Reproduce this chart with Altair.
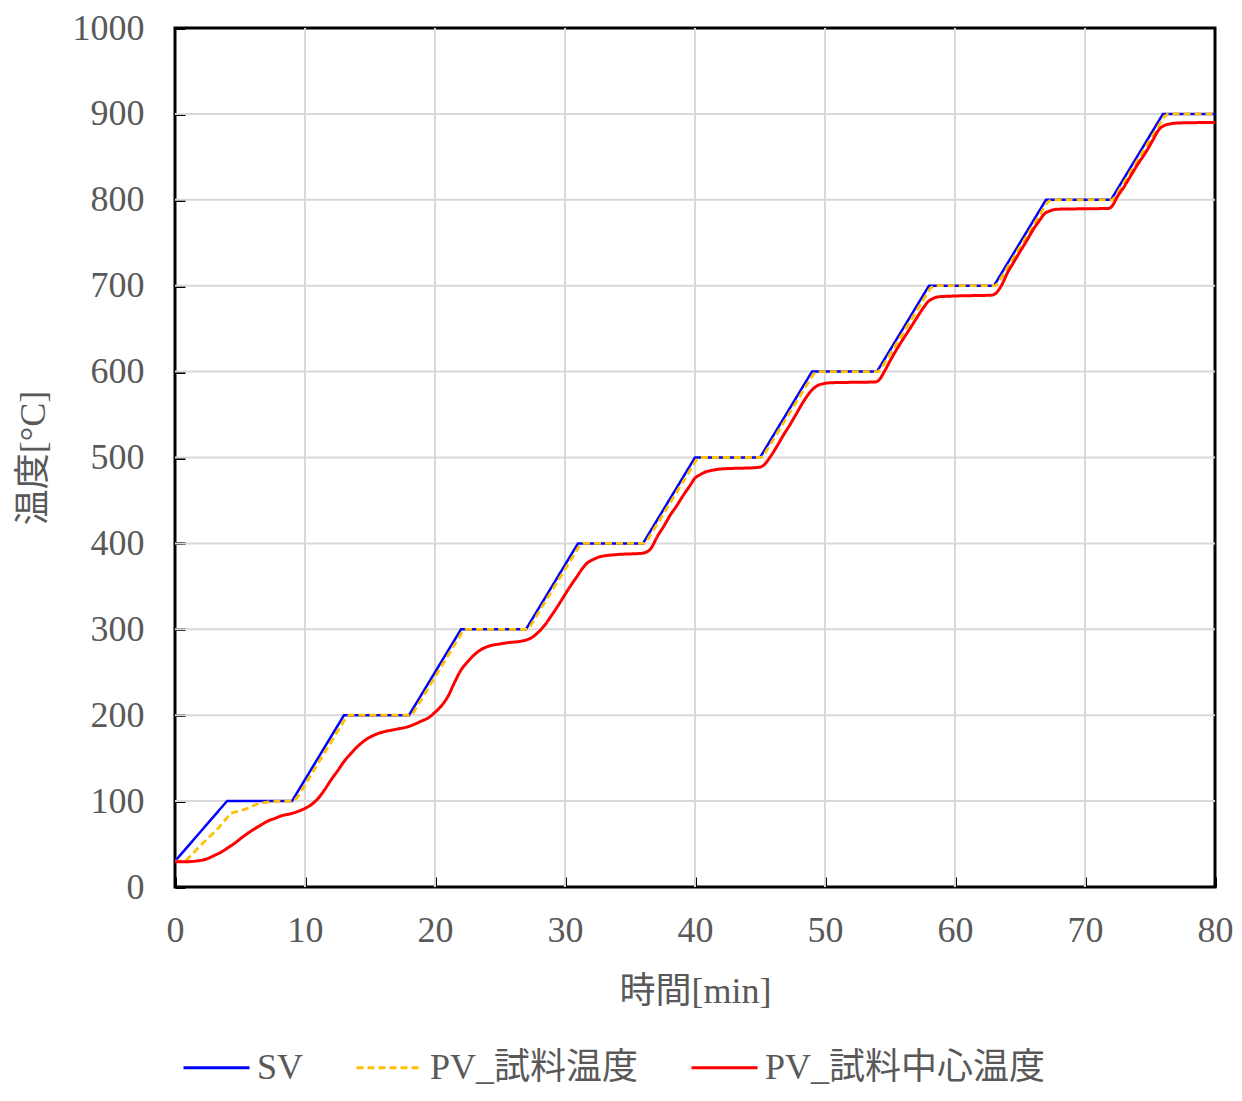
import altair as alt
import pandas as pd

SERIES = ["SV", "PV_試料温度", "PV_試料中心温度"]
COLORS = ["#0000FF", "#FFC000", "#FF0000"]
DASHES = [[1, 0], [7, 4], [1, 0]]

# SV (set value)
SV_T = [0, 4, 9, 13, 18, 22, 27, 31, 36, 40, 45, 49, 54, 58, 63, 67, 72, 76, 80]
SV_V = [30, 100, 100, 200, 200, 300, 300, 400, 400, 500, 500, 600, 600, 700, 700, 800, 800, 900, 900]

# PV sample temperature
PV_T = [0, 0.8, 2.0, 3.3, 4.3, 5.3, 6.4, 7.2, 8, 9.1, 9.4, 13.1, 13.4, 18.1, 18.3, 22.1, 22.4,
        27.1, 27.3, 31.1, 31.4, 36.1, 36.3, 40.1, 40.4, 45.1, 45.3, 49.1, 49.4, 54.1, 54.3,
        58.1, 58.4, 63.1, 63.3, 67.1, 67.4, 72.1, 72.3, 76.1, 76.4, 80]
PV_V = [30, 30, 49, 68, 86, 90, 97, 99, 100, 100, 104, 196, 200, 200, 202, 297, 300,
        300, 303, 397, 400, 400, 403, 497, 500, 500, 503, 597, 600, 600, 603,
        697, 700, 700, 703, 797, 800, 800, 803, 897, 900, 900]

# PV sample centre temperature
CORE_T = [0, 1, 1.5, 2, 2.5, 3, 3.6, 4.1, 4.6, 5.1, 5.6, 6.1, 6.6, 7.1, 7.7, 8.2, 8.7, 9.4,
          10, 10.5, 11, 11.5, 12, 12.5, 13, 13.5, 14, 14.5, 15, 15.5, 16, 17, 18, 18.5, 19,
          19.5, 19.9, 20.5, 21, 21.5, 22, 22.5, 23, 23.5, 24, 25, 25.6, 26.8, 27.2, 27.6,
          28.1, 28.5, 28.9, 29.4, 29.9, 30.4, 30.9, 31.3, 31.7, 32.2, 32.7, 34, 35.9, 36.1,
          36.6, 37.1, 37.6, 38.1, 38.6, 39.1, 39.6, 40, 40.4, 40.7, 41.3, 41.9, 44.9, 45.2,
          45.8, 46.3, 46.8, 47.3, 47.8, 48.3, 48.9, 49.4, 49.9, 50.4, 53.9, 54.2, 54.6, 55.1,
          55.6, 56.1, 56.7, 57.2, 57.6, 57.9, 58.3, 58.7, 60, 62.8, 63.2, 63.6, 64.0, 64.5,
          65, 65.5, 66, 66.5, 66.9, 67.3, 67.8, 71.8, 72.1, 72.5, 73.0, 73.4, 74, 74.7, 75.2,
          75.7, 76.1, 76.6, 77.3, 80]
CORE_V = [29.5, 29.5, 30, 31, 33, 36.5, 41, 46, 51, 57, 62.5, 67.5, 72, 76.5, 80, 83, 84.6, 87.7,
          91.5, 96, 103, 113, 124.6, 135, 146, 155, 163, 169.5, 174.5, 178, 180.5, 183.6, 187, 190, 193.5,
          197, 202, 211, 222, 238, 252.6, 262, 270, 276, 279.7, 283, 284.4, 286.7, 288.5, 292,
          299, 306, 314.7, 326, 338, 350, 361, 370, 377, 381.5, 384.5, 387, 388.5, 389,
          394, 408, 420, 433, 444, 456, 467, 476, 480, 482.5, 485, 486.5, 488.5, 490,
          501, 513, 526, 538, 551, 564, 577, 583.6, 586, 587, 588, 591, 601, 615,
          628, 640, 654, 666, 675, 681, 685, 687, 688, 689, 692, 701, 714, 727,
          739.6, 752, 765, 776, 784, 787, 789, 790, 793, 804, 815, 825, 840, 856, 869,
          882, 886.5, 888.5, 889.5, 890]

X_TICKS = [0, 10, 20, 30, 40, 50, 60, 70, 80]
Y_TICKS = [0, 100, 200, 300, 400, 500, 600, 700, 800, 900, 1000]
GRID_X = [10, 20, 30, 40, 50, 60, 70]
GRID_Y = [100, 200, 300, 400, 500, 600, 700, 800, 900]

FONT = "Liberation Serif, Noto Sans CJK JP"
GRAY = "#595959"


def frame(t, v, name):
    return pd.DataFrame({"t": t, "v": v, "series": name, "order": list(range(len(t)))})


xs = alt.Scale(domain=[0, 80], nice=False, zero=False)
ys = alt.Scale(domain=[0, 1000], nice=False)

x_axis = alt.Axis(values=X_TICKS, format="d", offset=-10, tickSize=10, tickWidth=3, tickColor="black",
                  domain=False, grid=False, labelFont=FONT, labelFontSize=36, labelColor=GRAY,
                  labelPadding=26, labelFlush=False, titleFont=FONT, titleFontSize=36,
                  titleColor=GRAY, titleFontWeight="normal", titlePadding=26)
y_axis = alt.Axis(values=Y_TICKS, format="d", offset=-10, tickSize=10, tickWidth=3, tickColor="black",
                  domain=False, grid=False, labelFont=FONT, labelFontSize=36, labelColor=GRAY,
                  labelPadding=31, labelFlush=False, titleFont=FONT, titleFontSize=36,
                  titleColor=GRAY, titleFontWeight="normal", titlePadding=20)

X = alt.X("t:Q", scale=xs, axis=x_axis, title="時間[min]")
Y = alt.Y("v:Q", scale=ys, axis=y_axis, title="温度[°C]")

legend = alt.Legend(title=None, orient="none", legendX=7, legendY=1005, direction="horizontal",
                    symbolType="stroke", symbolSize=4356, symbolStrokeWidth=3,
                    labelFont=FONT, labelFontSize=36, labelColor=GRAY, labelOffset=6,
                    columnPadding=46, labelLimit=400)
COLOR = alt.Color("series:N", scale=alt.Scale(domain=SERIES, range=COLORS), legend=legend)
DASH = alt.StrokeDash("series:N", scale=alt.Scale(domain=SERIES, range=DASHES), legend=legend)

grid_x = alt.Chart(pd.DataFrame({"t": GRID_X})).mark_rule(color="#d9d9d9", strokeWidth=2).encode(x=X)
grid_y = alt.Chart(pd.DataFrame({"v": GRID_Y})).mark_rule(color="#d9d9d9", strokeWidth=2).encode(y=Y)


def series_layer(df, width, interp):
    return alt.Chart(df).mark_line(strokeWidth=width, interpolate=interp).encode(
        x=X, y=Y, color=COLOR, strokeDash=DASH, order="order:Q")


sv = series_layer(frame(SV_T, SV_V, SERIES[0]), 2.5, "linear")
pv = series_layer(frame(PV_T, PV_V, SERIES[1]), 2.8, "linear")
core = series_layer(frame(CORE_T, CORE_V, SERIES[2]), 3, "monotone")

chart = alt.layer(grid_x, grid_y, sv, pv, core).properties(
    width=1040, height=859,
    autosize=alt.AutoSizeParams(type="none"),
    padding={"left": 167, "top": 20, "right": 19, "bottom": 203},
    background="white",
).configure_view(stroke="black", strokeWidth=3)

chart.save("out.html", embed_options={"renderer": "svg", "actions": False})
